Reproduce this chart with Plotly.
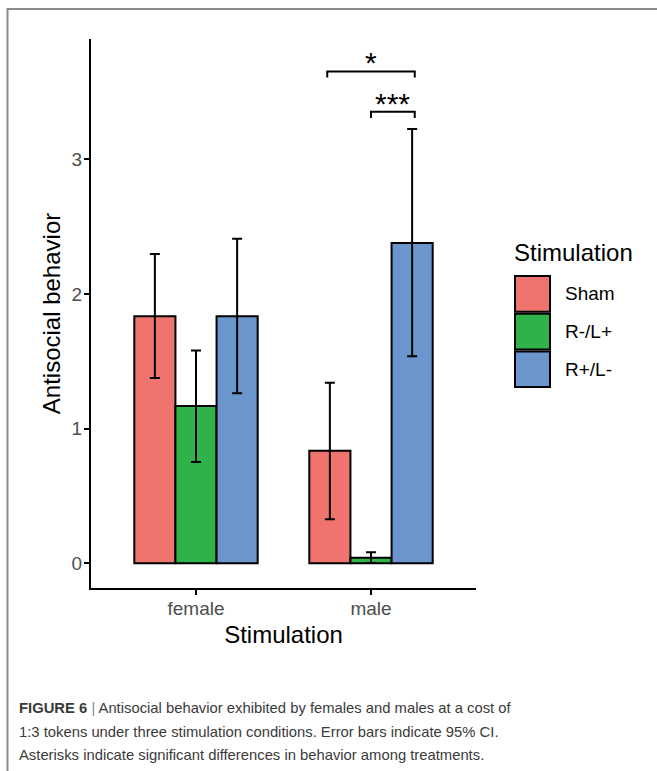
import plotly.graph_objects as go

# ---- data ----
sex = ["female", "male"]
conditions = ["Sham", "R-/L+", "R+/L-"]
colors = ["#F0746E", "#2FB24A", "#6B95CD"]
mean_sham = [1.834, 0.836]
mean_rmlp = [1.168, 0.042]
mean_rplm = [1.834, 2.378]
ci_low_sham = [1.376, 0.327]
ci_high_sham = [2.296, 1.341]
ci_low_rmlp = [0.752, 0.002]
ci_high_rmlp = [1.581, 0.082]
ci_low_rplm = [1.262, 1.537]
ci_high_rplm = [2.410, 3.224]

# significance brackets (group, cond index from, cond index to, y, label)
sig_group = [1, 1]
sig_from = [0, 1]
sig_to = [2, 2]
sig_y = [3.652, 3.352]
sig_label = ["*", "***"]

y_ticks = [0, 1, 2, 3]

caption_lines = [
    "<b>FIGURE 6</b> <span style='color:#888'>|</span> Antisocial behavior exhibited by females and males at a cost of",
    "1:3 tokens under three stimulation conditions. Error bars indicate 95% CI.",
    "Asterisks indicate significant differences in behavior among treatments.",
]

means = [mean_sham, mean_rmlp, mean_rplm]
lows = [ci_low_sham, ci_low_rmlp, ci_low_rplm]
highs = [ci_high_sham, ci_high_rmlp, ci_high_rplm]

fig = go.Figure()
for name, col, m, lo, hi in zip(conditions, colors, means, lows, highs):
    fig.add_trace(go.Bar(
        x=sex, y=m, name=name, showlegend=False,
        marker=dict(color=col, line=dict(color="black", width=2)),
        error_y=dict(type="data", symmetric=False,
                     array=[h - v for h, v in zip(hi, m)],
                     arrayminus=[v - l for l, v in zip(lo, m)],
                     color="black", thickness=2, width=5),
    ))

W, H = 657, 771
L, R, T, B = 91, 476, 39, 588
pw, ph = R - L, B - T
def px(x):
    return (x - L) / pw
def py(y):
    return (B - y) / ph

fig.update_layout(
    width=W, height=H,
    margin=dict(l=L, r=W - R, t=T, b=H - B, pad=0),
    paper_bgcolor="white", plot_bgcolor="white",
    barmode="group", bargap=0.295, bargroupgap=0,
    font=dict(family="Liberation Sans, Arial, sans-serif", color="black"),
    showlegend=False,
)
fig.update_xaxes(
    range=[-0.6, 1.6], showgrid=False, zeroline=False,
    showline=True, linecolor="black", linewidth=2,
    ticks="outside", ticklen=5, tickwidth=2, tickcolor="black",
    tickfont=dict(size=19, color="#4D4D4D"), ticklabelstandoff=-3,
    title=dict(text="Stimulation", font=dict(size=24, color="black"), standoff=8),
)
fig.update_yaxes(
    range=[-0.183, 3.893], showgrid=False, zeroline=False,
    tickvals=y_ticks, ticktext=[str(t) for t in y_ticks],
    showline=True, linecolor="black", linewidth=2,
    ticks="outside", ticklen=5, tickwidth=2, tickcolor="black",
    tickfont=dict(size=19, color="#4D4D4D"), ticklabelstandoff=-2,
    title=dict(text="Antisocial behavior", font=dict(size=24, color="black"), standoff=4),
)

shapes = []
annotations = []
# significance brackets
dodge = [-0.25, 0.0, 0.25]
for g, a, b, yv, lab in zip(sig_group, sig_from, sig_to, sig_y, sig_label):
    x0 = g + dodge[a]
    x1 = g + dodge[b]
    tick = 0.045
    shapes.append(dict(type="path", xref="x", yref="y",
                       path=f"M {x0},{yv - tick} L {x0},{yv} L {x1},{yv} L {x1},{yv - tick}",
                       line=dict(color="black", width=2)))
    annotations.append(dict(x=(x0 + x1) / 2, y=yv, xref="x", yref="y", text=lab,
                            showarrow=False, yanchor="bottom", yshift=-10,
                            font=dict(size=30, color="black")))

# manual legend
annotations.append(dict(x=px(512), y=py(252), xref="paper", yref="paper",
                        text="Stimulation", showarrow=False, xanchor="left", yanchor="middle",
                        font=dict(size=24, color="black")))
key_top = 275
key_h = 37.7
for i, (name, col) in enumerate(zip(conditions, colors)):
    y0 = key_top + i * key_h
    y1 = y0 + key_h
    shapes.append(dict(type="rect", xref="paper", yref="paper",
                       x0=px(515), x1=px(550), y0=py(y1 - 1), y1=py(y0 + 1),
                       fillcolor=col, line=dict(color="black", width=2)))
    annotations.append(dict(x=px(563), y=py((y0 + y1) / 2), xref="paper", yref="paper",
                            text=name, showarrow=False, xanchor="left", yanchor="middle",
                            font=dict(size=19, color="black")))

# figure frame
shapes.append(dict(type="path", xref="paper", yref="paper",
                   path=f"M {px(7.5)},{py(775)} L {px(7.5)},{py(9)} L {px(660)},{py(9)}",
                   line=dict(color="#8A8A8A", width=2)))

# caption (one annotation per line)
cap_y = [708, 732, 755]
for line, yc in zip(caption_lines, cap_y):
    annotations.append(dict(x=px(17), y=py(yc), xref="paper", yref="paper",
                            text=line, showarrow=False, xanchor="left", yanchor="middle",
                            align="left",
                            font=dict(size=14.8, color="#3A3A3A",
                                      family="Liberation Sans, Arial, sans-serif")))

fig.update_layout(shapes=shapes, annotations=annotations)
fig.write_html("out.html", config={"displayModeBar": False},
               post_script="document.body.style.margin='0';document.body.style.overflow='hidden';")
